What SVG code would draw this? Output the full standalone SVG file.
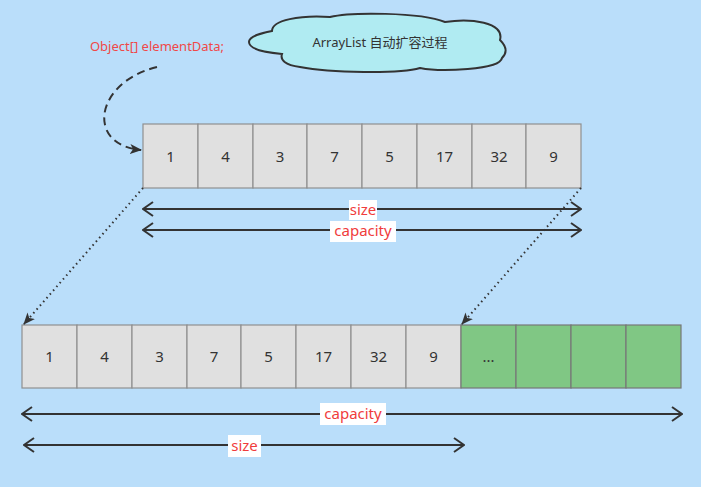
<svg xmlns="http://www.w3.org/2000/svg" width="701" height="487" viewBox="0 0 701 487">
<defs>
<style>
.cell{fill:#e0e0e0;stroke:#8f8f8f;stroke-width:1.2}
.green{fill:#80c784;stroke:#777;stroke-width:1.2}
.num{font-family:"Noto Sans","Noto Sans CJK SC",sans-serif;font-size:15px;fill:#333;text-anchor:middle}
.lbl{font-family:"Noto Sans","Noto Sans CJK SC",sans-serif;font-size:15px;fill:#f03c3c;text-anchor:middle}
.dim{stroke:#333;stroke-width:2;fill:none}
.lblbg{fill:#fff}
</style>
<marker id="open" viewBox="0 0 12 16" refX="11" refY="8" markerWidth="12" markerHeight="16" markerUnits="userSpaceOnUse" orient="auto-start-reverse">
<path d="M1 1 L11 8 L1 15" fill="none" stroke="#333" stroke-width="2"/>
</marker>
<marker id="tri" viewBox="0 0 12 10" refX="11" refY="5" markerWidth="12" markerHeight="10" markerUnits="userSpaceOnUse" orient="auto">
<path d="M0 0 L12 5 L0 10 L3 5 Z" fill="#333"/>
</marker>
</defs>
<rect x="0" y="0" width="701" height="487" fill="#badefa"/>

<g id="cloud">
<path d="M 249 42 C 249 36 262 33 272 31 C 272 20 300 15 330 17 C 350 12 420 12 445 22 C 470 18 505 22 500 40 C 506 46 508 52 502 58 C 500 70 440 72 420 68 C 400 74 330 73 300 67 C 285 65 280 60 282 54 C 260 52 249 48 249 42 Z" fill="#b0ebf2" stroke="#333" stroke-width="2"/>
<text x="380" y="47" font-family="'Noto Sans','Noto Sans CJK SC',sans-serif" font-size="13" fill="#333" text-anchor="middle">ArrayList 自动扩容过程</text>
</g>

<g id="label-elementData">
<text x="157" y="51" font-family="'Noto Sans','Noto Sans CJK SC',sans-serif" font-size="13" fill="#f04848" text-anchor="middle">Object[] elementData;</text>
</g>

<g id="array-old">
<rect class="cell" x="143" y="124" width="55" height="64"/>
<rect class="cell" x="198" y="124" width="55" height="64"/>
<rect class="cell" x="253" y="124" width="54" height="64"/>
<rect class="cell" x="307" y="124" width="55" height="64"/>
<rect class="cell" x="362" y="124" width="55" height="64"/>
<rect class="cell" x="417" y="124" width="55" height="64"/>
<rect class="cell" x="472" y="124" width="54" height="64"/>
<rect class="cell" x="526" y="124" width="55" height="64"/>
<text class="num" x="170.5" y="162">1</text>
<text class="num" x="225.5" y="162">4</text>
<text class="num" x="280" y="162">3</text>
<text class="num" x="334.5" y="162">7</text>
<text class="num" x="389.5" y="162">5</text>
<text class="num" x="444.5" y="162">17</text>
<text class="num" x="499" y="162">32</text>
<text class="num" x="553.5" y="162">9</text>
</g>

<g id="array-new">
<rect class="cell" x="22" y="325" width="55" height="63"/>
<rect class="cell" x="77" y="325" width="55" height="63"/>
<rect class="cell" x="132" y="325" width="55" height="63"/>
<rect class="cell" x="187" y="325" width="54" height="63"/>
<rect class="cell" x="241" y="325" width="55" height="63"/>
<rect class="cell" x="296" y="325" width="55" height="63"/>
<rect class="cell" x="351" y="325" width="55" height="63"/>
<rect class="cell" x="406" y="325" width="55" height="63"/>
<rect class="green" x="461" y="325" width="55" height="63"/>
<rect class="green" x="516" y="325" width="55" height="63"/>
<rect class="green" x="571" y="325" width="55" height="63"/>
<rect class="green" x="626" y="325" width="55" height="63"/>
<text class="num" x="49.5" y="362">1</text>
<text class="num" x="104.5" y="362">4</text>
<text class="num" x="159.5" y="362">3</text>
<text class="num" x="214" y="362">7</text>
<text class="num" x="268.5" y="362">5</text>
<text class="num" x="323.5" y="362">17</text>
<text class="num" x="378.5" y="362">32</text>
<text class="num" x="433.5" y="362">9</text>
<text class="num" x="488.5" y="362">...</text>
</g>

<g id="connectors">
<path d="M 157 67 C 95 82 85 145 141 150" fill="none" stroke="#333" stroke-width="2" stroke-dasharray="8,5" marker-end="url(#tri)"/>
<path d="M 143 188 L 24 324" fill="none" stroke="#333" stroke-width="2" stroke-dasharray="1.5,3.5" marker-end="url(#tri)"/>
<path d="M 581 188 L 462 324" fill="none" stroke="#333" stroke-width="2" stroke-dasharray="1.5,3.5" marker-end="url(#tri)"/>
<line class="dim" x1="143" y1="209" x2="581" y2="209" marker-start="url(#open)" marker-end="url(#open)"/>
<line class="dim" x1="143" y1="230" x2="581" y2="230" marker-start="url(#open)" marker-end="url(#open)"/>
<line class="dim" x1="22" y1="414" x2="682" y2="414" marker-start="url(#open)" marker-end="url(#open)"/>
<line class="dim" x1="24" y1="445" x2="464" y2="445" marker-start="url(#open)" marker-end="url(#open)"/>
</g>

<g id="dim-labels">
<rect class="lblbg" x="349" y="200" width="28" height="20"/>
<text class="lbl" x="363" y="215">size</text>
<rect class="lblbg" x="330" y="221" width="66" height="21"/>
<text class="lbl" x="363" y="236">capacity</text>
<rect class="lblbg" x="320" y="403" width="66" height="22"/>
<text class="lbl" x="353" y="419">capacity</text>
<rect class="lblbg" x="228" y="435" width="33" height="22"/>
<text class="lbl" x="244.5" y="451">size</text>
</g>
</svg>
